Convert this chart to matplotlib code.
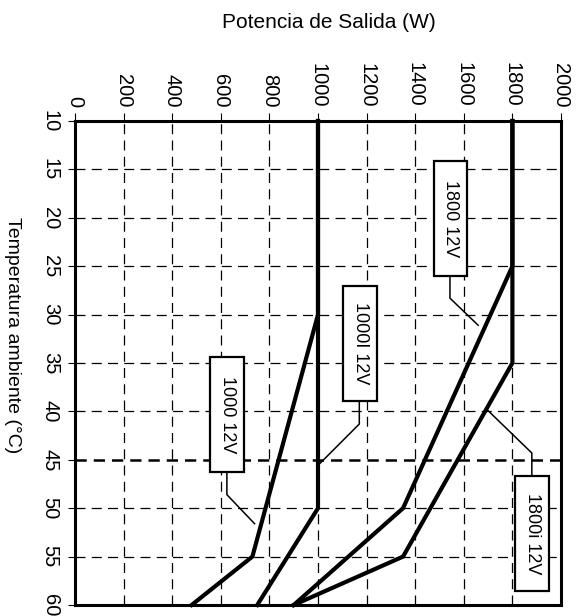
import matplotlib
matplotlib.use("Agg")
import matplotlib.pyplot as plt
from matplotlib.patches import Rectangle

plt.rcParams['font.family'] = ['Liberation Sans', 'DejaVu Sans']

# derating curves: output power (W) vs ambient temperature (C)
temp_1000 = [10, 30, 55, 60]
power_1000 = [1000, 1000, 730, 480]

temp_1000i = [10, 50, 60]
power_1000i = [1000, 1000, 750]

temp_1800 = [10, 25, 50, 60]
power_1800 = [1800, 1800, 1350, 900]

temp_1800i = [10, 35, 55, 60]
power_1800i = [1800, 1800, 1350, 900]

power_ticks = list(range(0, 2001, 200))
temp_ticks = list(range(10, 61, 5))

# label boxes: text, box centre (W, C), leader line points
label_names = ["1800 12V", "1800i 12V", "1000I 12V", "1000 12V"]
label_centres = [(1546, 20.05), (1881, 52.6), (1173, 33.0), (626, 40.3)]
leader_w = [[1543, 1543, 1659], [1880, 1880, 1697], [1170, 1170, 1009], [625, 625, 739]]
leader_t = [[26.0, 28.3, 31.1], [46.7, 44.3, 39.85], [39.0, 41.3, 45.35], [46.2, 48.6, 51.6]]
box_w, box_h = 138, 11.9

fig = plt.figure(figsize=(5.8, 6.16), dpi=100)
ax = fig.add_axes([75 / 580, 1 - 605 / 616, 486 / 580, 484 / 616])

ax.set_xlim(0, 2000)
ax.set_ylim(60, 10)
ax.xaxis.tick_top()
ax.set_xticks(power_ticks)
ax.set_yticks(temp_ticks)
ax.set_xticklabels([str(v) for v in power_ticks], rotation=-90, va='bottom', ha='center', fontsize=14.5)
ax.set_yticklabels([str(v) for v in temp_ticks], rotation=-90, va='center', ha='right', fontsize=14.5)
ax.tick_params(axis='x', length=6, width=0.8, pad=4)
ax.tick_params(axis='y', length=5, width=0.8, pad=6)
for s in ax.spines.values():
    s.set_linewidth(2.2)

# dashed grid
for p in power_ticks[1:-1]:
    ax.axvline(p, color='black', lw=0.9, ls=(0, (8, 5)), zorder=1)
for t in temp_ticks[1:-1]:
    if t == 45:
        ax.axhline(t, color='black', lw=1.8, ls=(0, (4.5, 2.8)), zorder=1)
    else:
        ax.axhline(t, color='black', lw=0.9, ls=(0, (8, 5)), zorder=1)

# curves
for pw, tp in [(power_1000, temp_1000), (power_1000i, temp_1000i),
               (power_1800, temp_1800), (power_1800i, temp_1800i)]:
    ax.plot(pw, tp, color='black', lw=3, solid_joinstyle='miter', zorder=3, clip_on=False)

# labels with boxes and leader lines
for name, (cx, cy), lw_, lt_ in zip(label_names, label_centres, leader_w, leader_t):
    ax.plot(lw_, lt_, color='black', lw=1.1, zorder=4)
    ax.add_patch(Rectangle((cx - box_w / 2, cy - box_h / 2), box_w, box_h,
                           facecolor='white', edgecolor='black', lw=1.6, zorder=5))
    ax.text(cx, cy, name, rotation=-90, ha='center', va='center', fontsize=13, zorder=6)

fig.text(329 / 580, 1 - 23 / 616, "Potencia de Salida (W)", ha='center', va='center', fontsize=15)
fig.text(12 / 580, 1 - 335 / 616, "Temperatura ambiente (°C)", rotation=-90,
         ha='center', va='center', fontsize=14)

fig.savefig("out.png", dpi=100, facecolor='white')
